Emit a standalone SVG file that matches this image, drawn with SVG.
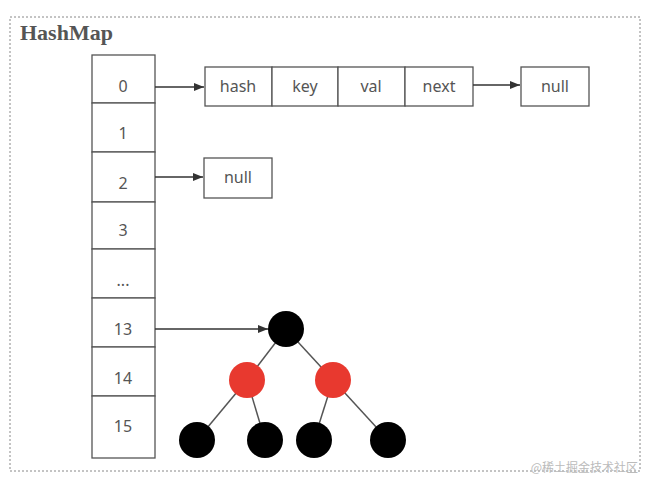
<svg xmlns="http://www.w3.org/2000/svg" width="646" height="482" viewBox="0 0 646 482">
<defs>
<marker id="arr" markerWidth="10" markerHeight="8" refX="10" refY="4" orient="auto" markerUnits="userSpaceOnUse">
<path d="M0,0 L10,4 L0,8 Z" fill="#333"/>
</marker>
<style>
.cell{fill:#fff;stroke:#555;stroke-width:1.3}
.t{font-family:"Noto Sans","Open Sans",sans-serif;font-size:16px;fill:#555;text-anchor:middle;dominant-baseline:central}
.conn{stroke:#333;stroke-width:1.3;fill:none;marker-end:url(#arr)}
.edge{stroke:#555;stroke-width:1.5}
.blk{fill:#000}
.red{fill:#e8392f}
</style>
</defs>
<rect width="646" height="482" fill="#fff"/>
<rect x="10" y="17" width="630" height="454" fill="none" stroke="#888" stroke-width="1" stroke-dasharray="2 2"/>
<text x="20" y="40" font-family="'Liberation Serif',serif" font-size="22" font-weight="bold" fill="#555">HashMap</text>

<g id="array">
<rect class="cell" x="92" y="55" width="63" height="48"/>
<text class="t" x="123" y="86">0</text>
<rect class="cell" x="92" y="103" width="63" height="49"/>
<text class="t" x="123" y="133">1</text>
<rect class="cell" x="92" y="152" width="63" height="50"/>
<text class="t" x="123" y="183">2</text>
<rect class="cell" x="92" y="202" width="63" height="47"/>
<text class="t" x="123" y="230">3</text>
<rect class="cell" x="92" y="249" width="63" height="49"/>
<text class="t" x="123" y="280">...</text>
<rect class="cell" x="92" y="298" width="63" height="49"/>
<text class="t" x="123" y="329">13</text>
<rect class="cell" x="92" y="347" width="63" height="49"/>
<text class="t" x="123" y="378">14</text>
<rect class="cell" x="92" y="396" width="63" height="62"/>
<text class="t" x="123" y="426">15</text>
</g>

<g id="entry">
<rect class="cell" x="205" y="67" width="67" height="39"/>
<text class="t" x="238" y="86">hash</text>
<rect class="cell" x="272" y="67" width="66" height="39"/>
<text class="t" x="305" y="86">key</text>
<rect class="cell" x="338" y="67" width="67" height="39"/>
<text class="t" x="371" y="86">val</text>
<rect class="cell" x="405" y="67" width="68" height="39"/>
<text class="t" x="439" y="86">next</text>
</g>
<g id="null1">
<rect class="cell" x="521" y="67" width="68" height="39"/>
<text class="t" x="555" y="86">null</text>
</g>
<g id="null2">
<rect class="cell" x="204" y="158" width="68" height="40"/>
<text class="t" x="238" y="177">null</text>
</g>

<g id="connectors">
<line class="conn" x1="155" y1="87" x2="204" y2="87"/>
<line class="conn" x1="473" y1="85" x2="520" y2="85"/>
<line class="conn" x1="155" y1="177" x2="203" y2="177"/>
<line class="conn" x1="155" y1="329" x2="268" y2="329"/>
<line class="edge" x1="286" y1="329" x2="247" y2="380"/>
<line class="edge" x1="286" y1="329" x2="333" y2="380"/>
<line class="edge" x1="247" y1="380" x2="197" y2="440"/>
<line class="edge" x1="247" y1="380" x2="265" y2="440"/>
<line class="edge" x1="333" y1="380" x2="314" y2="440"/>
<line class="edge" x1="333" y1="380" x2="388" y2="440"/>
</g>

<g id="root"><circle class="blk" cx="286" cy="329" r="18"/></g>
<g id="red1"><circle class="red" cx="247" cy="380" r="18"/></g>
<g id="red2"><circle class="red" cx="333" cy="380" r="18"/></g>
<g id="leaf1"><circle class="blk" cx="197" cy="440" r="18"/></g>
<g id="leaf2"><circle class="blk" cx="265" cy="440" r="18"/></g>
<g id="leaf3"><circle class="blk" cx="314" cy="440" r="18"/></g>
<g id="leaf4"><circle class="blk" cx="388" cy="440" r="18"/></g>

<text x="638" y="472" text-anchor="end" font-family="'Noto Sans CJK SC',sans-serif" font-size="12" fill="#bbb">@稀土掘金技术社区</text>
</svg>
